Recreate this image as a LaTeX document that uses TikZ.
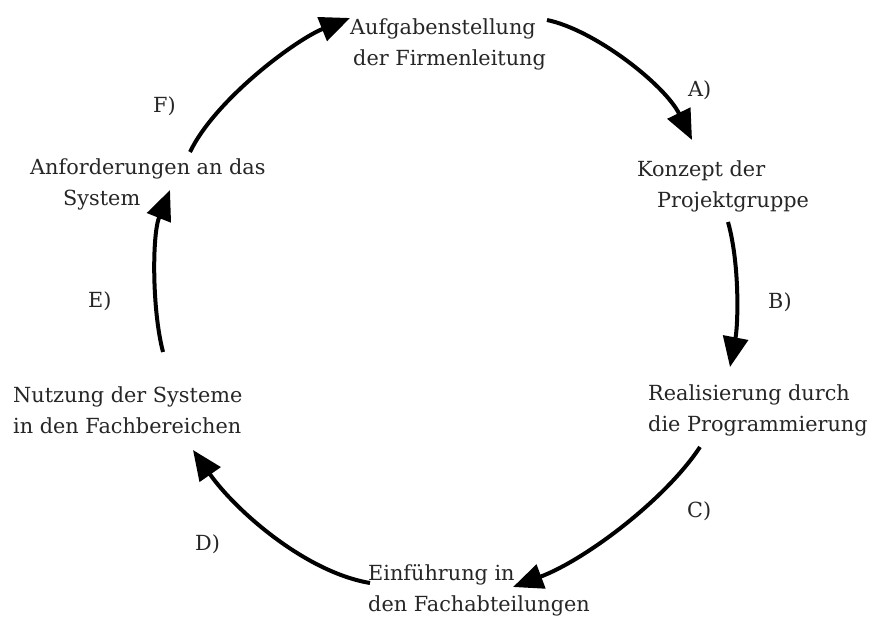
\documentclass[tikz,border=0pt]{standalone}
\usepackage{fontspec}
\setmainfont{DejaVu Serif}
\usetikzlibrary{arrows.meta}
\tikzset{
  txt/.style={anchor=base west, inner sep=0pt, text=black!85, font=\fontsize{20.8}{31}\selectfont},
  arr/.style={line width=4pt, -{Triangle[length=30pt,width=25pt]}}
}
\begin{document}
\begin{tikzpicture}[x=1pt,y=-1pt]
\useasboundingbox[fill=white] (0,0) rectangle (874,620);
% stations
\node[txt] (auf) at (350,35) {\begin{tabular}[t]{@{}l@{}}Aufgabenstellung\\\hspace*{3pt}der Firmenleitung\end{tabular}};
\node[txt] (konz) at (637,177) {\begin{tabular}[t]{@{}l@{}}Konzept der\\\hspace*{20pt}Projektgruppe\end{tabular}};
\node[txt] (real) at (648,400) {\begin{tabular}[t]{@{}l@{}}Realisierung durch\\die Programmierung\end{tabular}};
\node[txt] (einf) at (368,580) {\begin{tabular}[t]{@{}l@{}}Einführung in\\den Fachabteilungen\end{tabular}};
\node[txt] (nutz) at (13,402) {\begin{tabular}[t]{@{}l@{}}Nutzung der Systeme\\in den Fachbereichen\end{tabular}};
\node[txt] (anf) at (30,175) {\begin{tabular}[t]{@{}l@{}}Anforderungen an das\\\hspace*{33pt}System\end{tabular}};
% step labels
\node[txt] (la) at (688,97) {A)};
\node[txt] (lb) at (768,308) {B)};
\node[txt] (lc) at (687,517) {C)};
\node[txt] (ld) at (195,550) {D)};
\node[txt] (le) at (88,307) {E)};
\node[txt] (lf) at (153,113) {F)};
% connectors
\draw[arr] ([shift={(197,-15)}]auf.base west) .. controls (595,30) and (665,85) .. ([shift={(55,-37)}]konz.base west);
\draw[arr] ([shift={(91,45)}]konz.base west) .. controls (740,265) and (738,325) .. ([shift={(82,-33)}]real.base west);
\draw[arr] ([shift={(52,47)}]real.base west) .. controls (665,500) and (585,560) .. ([shift={(145,7)}]einf.base west);
\draw[arr] ([shift={(2,3)}]einf.base west) .. controls (305,572) and (235,510) .. ([shift={(180,48)}]nutz.base west);
\draw[arr] ([shift={(150,-50)}]nutz.base west) .. controls (152,310) and (152,235) .. ([shift={(140,15)}]anf.base west);
\draw[arr] ([shift={(160,-23)}]anf.base west) .. controls (215,100) and (295,40) .. ([shift={(0,-17)}]auf.base west);
\end{tikzpicture}
\end{document}
